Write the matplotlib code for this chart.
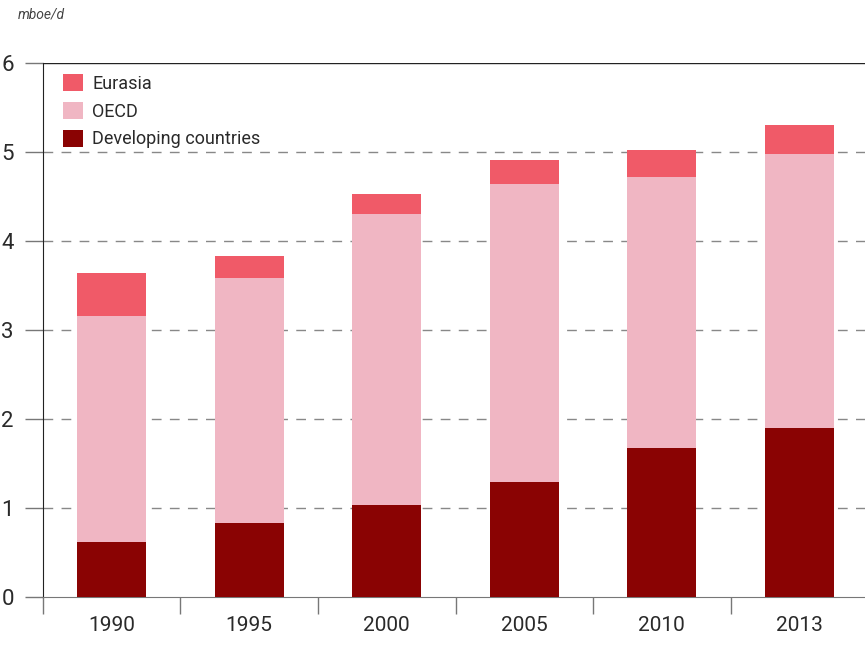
import matplotlib.pyplot as plt
import numpy as np

plt.rcParams['font.family'] = ['Roboto', 'DejaVu Sans']

years = ['1990', '1995', '2000', '2005', '2010', '2013']
developing = [0.62, 0.83, 1.03, 1.29, 1.67, 1.90]
oecd = [2.54, 2.75, 3.27, 3.35, 3.05, 3.08]
eurasia = [0.48, 0.25, 0.23, 0.27, 0.30, 0.32]

c_dev = '#8a0303'
c_oecd = '#f0b6c3'
c_eur = '#f05a68'
txt = '#2a2a2a'

fig = plt.figure(figsize=(8.65, 6.47), dpi=100)
ax = fig.add_axes([0.0497, 0.0773, 0.9538, 0.8253])

x = np.arange(len(years))
dev = np.array(developing)
oe = np.array(oecd)
ax.bar(x, dev, width=0.5, color=c_dev, label='Developing countries', zorder=3)
ax.bar(x, oe, width=0.5, bottom=dev, color=c_oecd, label='OECD', zorder=3)
ax.bar(x, eurasia, width=0.5, bottom=dev + oe, color=c_eur, label='Eurasia', zorder=3)

ax.set_xlim(-0.5, 5.5)
ax.set_ylim(0, 6)
ax.set_yticks(range(7))
ax.set_yticklabels([str(i) for i in range(7)], fontsize=16, color=txt)
for yv in range(1, 6):
    ax.axhline(yv, color='#888888', linestyle=(0, (7, 6)), linewidth=1, zorder=1)
ax.axhline(6, color='#222222', linewidth=1, zorder=1)

ax.set_xticks(x)
ax.set_xticklabels(years, fontsize=15, color=txt)
ax.set_xticks(np.arange(-0.5, 5.6, 1), minor=True)
ax.tick_params(axis='x', which='major', length=0, pad=14)
ax.tick_params(axis='x', which='minor', length=12, color='#777777', width=1)
ax.tick_params(axis='y', length=13, color='#777777', width=1, pad=8)

for s in ['top', 'right']:
    ax.spines[s].set_visible(False)
ax.spines['left'].set_color('#222222')
ax.spines['bottom'].set_color('#777777')

handles, labels = ax.get_legend_handles_labels()
leg = ax.legend(handles[::-1], labels[::-1], loc='upper left', frameon=False,
                fontsize=13, handlelength=1.1, handleheight=1.1, handletextpad=0.5,
                labelspacing=0.5, bbox_to_anchor=(0.005, 1.01))
for t in leg.get_texts():
    t.set_color(txt)

fig.text(0.021, 0.978, 'mboe/d', fontsize=10, style='italic', color='#444444', va='center')

fig.savefig('out.png', dpi=100)
